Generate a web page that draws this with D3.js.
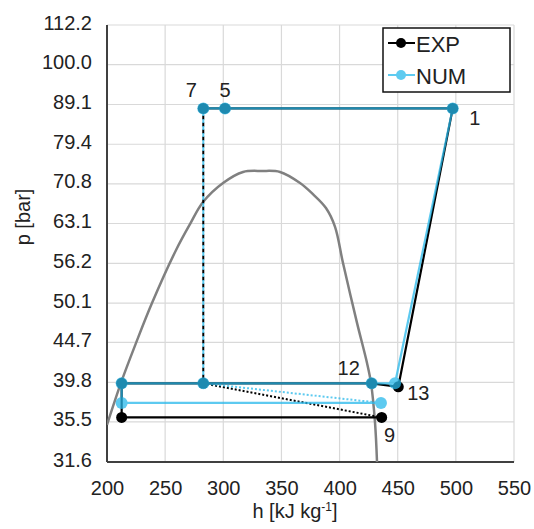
<!DOCTYPE html>
<html>
<head>
<meta charset="utf-8">
<script src="https://cdn.jsdelivr.net/npm/d3@7"></script>
<style>
body { margin: 0; background: #fff; }
text { font-family: "Liberation Sans", Arial, sans-serif; fill: #222; }
</style>
</head>
<body>
<div id="chart"></div>
<script>
// axis ticks
var xTicks = [200, 250, 300, 350, 400, 450, 500, 550];
var yTicks = [31.6, 35.5, 39.8, 44.7, 50.1, 56.2, 63.1, 70.8, 79.4, 89.1, 100.0, 112.2];
var yTickLabels = ["31.6", "35.5", "39.8", "44.7", "50.1", "56.2", "63.1", "70.8", "79.4", "89.1", "100.0", "112.2"];

// saturation dome (h, p)
var domeH = [200, 212.0, 224.9, 238.7, 259.3, 271.4, 282.6, 299.8, 317.0, 333.3, 348.8, 366.0, 377.1,
	388.3, 396.1, 402.9, 415.0, 423.6, 427.0, 430.5, 432.2];
var domeP = [35.2, 39.75, 44.6, 50.1, 58.4, 63.0, 67.15, 70.96, 73.27, 73.48, 73.27, 70.96, 68.7,
	66.0, 62.5, 56.3, 47.3, 42.1, 39.75, 35.4, 31.6];

// EXP cycle: 9, 4, 3, 12, 13, 1, 5, 7
var expSolidH = [436.2, 212.6, 212.6, 427.6, 450.5, 497.3, 301.5, 282.8];
var expSolidP = [35.96, 35.96, 39.7, 39.7, 39.3, 88.1, 88.1, 88.1];
var expDashH = [282.8, 282.8];
var expDashP = [88.1, 39.7];
var expDotH = [282.8, 436.2];
var expDotP = [39.7, 35.96];

// NUM cycle
var numSolidH = [435.6, 212.6, 212.6, 427.6, 447.7, 497.3, 301.5, 282.8];
var numSolidP = [37.5, 37.5, 39.7, 39.7, 39.7, 88.1, 88.1, 88.1];
var numDashH = [282.8, 282.8];
var numDashP = [88.1, 39.7];
var numDotH = [282.8, 435.6];
var numDotP = [39.7, 37.5];

// state point labels
var pointLabels = ["1", "5", "7", "12", "13", "9"];
var pointLabelH = [497.3, 301.5, 282.8, 427.6, 450.5, 436.2];
var pointLabelP = [88.1, 88.1, 88.1, 39.7, 39.3, 35.96];

var W = 534, H = 529;
var margin = {left: 107, top: 25, right: 20, bottom: 67};
var pw = W - margin.left - margin.right;
var ph = H - margin.top - margin.bottom;

var svg = d3.select("#chart").append("svg")
	.attr("width", W)
	.attr("height", H);

var x = d3.scaleLinear().domain([200, 550]).range([0, pw]);
var y = d3.scaleLog().domain([31.6, 112.2]).range([ph, 0]);

var g = svg.append("g").attr("transform", "translate(" + margin.left + "," + margin.top + ")");

svg.append("defs").append("clipPath").attr("id", "clip")
	.append("rect").attr("width", pw).attr("height", ph);

// grid
g.selectAll(".vgrid").data(xTicks).enter().append("line")
	.attr("x1", function(d) { return x(d); })
	.attr("x2", function(d) { return x(d); })
	.attr("y1", 0).attr("y2", ph)
	.attr("stroke", "#d9d9d9").attr("stroke-width", 1.2);
g.selectAll(".hgrid").data(yTicks).enter().append("line")
	.attr("y1", function(d) { return y(d); })
	.attr("y2", function(d) { return y(d); })
	.attr("x1", 0).attr("x2", pw)
	.attr("stroke", "#d9d9d9").attr("stroke-width", 1.2);

// axes
var xAxis = g.append("g").attr("transform", "translate(0," + ph + ")")
	.call(d3.axisBottom(x).tickValues(xTicks).tickSize(0).tickPadding(19));
var yAxis = g.append("g")
	.call(d3.axisLeft(y).tickValues(yTicks).tickSize(0).tickPadding(15)
		.tickFormat(function(d, i) { return yTickLabels[i]; }));
[xAxis, yAxis].forEach(function(a) {
	a.select(".domain").remove();
	a.selectAll("text").attr("font-size", 20).attr("font-family", "Liberation Sans, Arial, sans-serif").attr("fill", "#222");
});
yAxis.selectAll("text").attr("dy", "0.2em");

g.append("line").attr("x1", 0).attr("x2", 0).attr("y1", 0).attr("y2", ph)
	.attr("stroke", "#404040").attr("stroke-width", 2);
g.append("line").attr("x1", 0).attr("x2", pw).attr("y1", ph).attr("y2", ph)
	.attr("stroke", "#404040").attr("stroke-width", 2);

var plot = g.append("g").attr("clip-path", "url(#clip)");

function pts(hs, ps) {
	return hs.map(function(h, i) { return [h, ps[i]]; });
}
var line = d3.line().x(function(d) { return x(d[0]); }).y(function(d) { return y(d[1]); });

// dome
plot.append("path")
	.attr("d", line.curve(d3.curveCatmullRom.alpha(0.5))(pts(domeH, domeP)))
	.attr("fill", "none").attr("stroke", "#808080").attr("stroke-width", 2.5);
line.curve(d3.curveLinear);

function drawSeries(color, opacity, r, solidH, solidP, dashH, dashP, dotH, dotP, dashOffset) {
	var s = plot.append("g").attr("opacity", opacity);
	s.append("path").attr("d", line(pts(solidH, solidP)))
		.attr("fill", "none").attr("stroke", color).attr("stroke-width", 2.2);
	s.append("path").attr("d", line(pts(dashH, dashP)))
		.attr("fill", "none").attr("stroke", color).attr("stroke-width", 2)
		.attr("stroke-dasharray", "4,3").attr("stroke-dashoffset", dashOffset);
	s.append("path").attr("d", line(pts(dotH, dotP)))
		.attr("fill", "none").attr("stroke", color).attr("stroke-width", 2)
		.attr("stroke-dasharray", "2,2");
	var m = pts(solidH, solidP).concat([[dotH[0], dotP[0]]]);
	s.selectAll("circle").data(m).enter().append("circle")
		.attr("cx", function(d) { return x(d[0]); })
		.attr("cy", function(d) { return y(d[1]); })
		.attr("r", r)
		.attr("fill", color);
}

drawSeries("#000", 1, 5.5, expSolidH, expSolidP, expDashH, expDashP, expDotH, expDotP, 0);
drawSeries("rgb(40,185,235)", 0.75, 6, numSolidH, numSolidP, numDashH, numDashP, numDotH, numDotP, 3.5);

// point labels
var labelOffsets = [[22, 17], [0, -11], [-12, -11], [-23, -8], [20, 13], [8, 25]];
g.selectAll(".plabel").data(pointLabels).enter().append("text")
	.attr("x", function(d, i) { return x(pointLabelH[i]) + labelOffsets[i][0]; })
	.attr("y", function(d, i) { return y(pointLabelP[i]) + labelOffsets[i][1]; })
	.attr("text-anchor", "middle")
	.attr("font-size", 20)
	.text(function(d) { return d; });

// legend
var lg = svg.append("g").attr("transform", "translate(383,28)");
lg.append("rect").attr("width", 127).attr("height", 64)
	.attr("fill", "#fff").attr("stroke", "#111").attr("stroke-width", 1.5);
var legendNames = ["EXP", "NUM"];
var legendColors = ["#000", "rgb(94,203,240)"];
legendNames.forEach(function(name, i) {
	var ly = 15 + i * 32;
	lg.append("line").attr("x1", 5).attr("x2", 32).attr("y1", ly).attr("y2", ly)
		.attr("stroke", legendColors[i]).attr("stroke-width", 2);
	lg.append("circle").attr("cx", 18).attr("cy", ly).attr("r", 5).attr("fill", legendColors[i]);
	lg.append("text").attr("x", 33).attr("y", ly + 9).attr("font-size", 22).text(name);
});

// axis titles
svg.append("text")
	.attr("x", 295).attr("y", 518)
	.attr("text-anchor", "middle").attr("font-size", 20)
	.html('h [kJ kg<tspan dy="-7" font-size="12">-1</tspan><tspan dy="7">]</tspan>');
svg.append("text")
	.attr("transform", "translate(30,217) rotate(-90)")
	.attr("text-anchor", "middle").attr("font-size", 20)
	.text("p [bar]");
</script>
</body>
</html>
